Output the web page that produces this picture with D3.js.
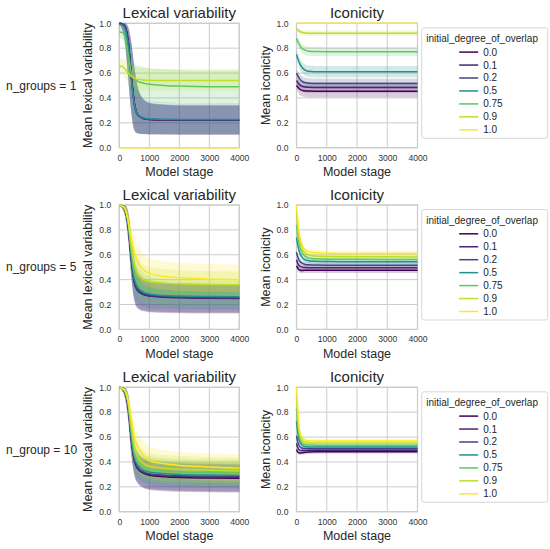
<!DOCTYPE html>
<html><head><meta charset="utf-8">
<script src="https://cdn.jsdelivr.net/npm/d3@7"></script>
<style>
body{margin:0;background:#fff;}
text{font-family:"Liberation Sans",Arial,Helvetica,sans-serif;fill:#262626;}
</style>
</head><body>
<svg id="c" width="550" height="549"></svg>
<script>
// ---------- categories & ticks ----------
const overlaps = ["0.0","0.1","0.2","0.5","0.75","0.9","1.0"];
const overlapValues = [0, 0.1, 0.2, 0.5, 0.75, 0.9, 1.0];
const rowLabels = ["n_groups = 1","n_groups = 5","n_group = 10"];
const legendTitle = "initial_degree_of_overlap";
const xTicks = [0, 1000, 2000, 3000, 4000];
const yTicks = [0, 0.2, 0.4, 0.6, 0.8, 1.0];
const lexStages = [0, 100, 200, 300, 400, 500, 600, 800, 1000, 1500, 2000, 3000, 4000];
const iconStages = [0, 50, 100, 200, 300, 400, 600, 1000, 2000, 4000];

// ---------- Lexical variability, n_groups = 1 ----------
const lex1Mean = [
 [1.00,0.995,0.97,0.85,0.58,0.36,0.27,0.235,0.226,0.222,0.221,0.221,0.221],
 [1.00,0.995,0.97,0.85,0.58,0.36,0.27,0.236,0.228,0.224,0.223,0.223,0.223],
 [1.00,0.995,0.965,0.84,0.57,0.355,0.268,0.236,0.228,0.225,0.224,0.224,0.224],
 [0.99,0.985,0.95,0.81,0.55,0.35,0.27,0.24,0.232,0.228,0.227,0.227,0.227],
 [0.93,0.925,0.88,0.74,0.60,0.555,0.535,0.52,0.51,0.50,0.495,0.49,0.49],
 [0.65,0.655,0.63,0.60,0.575,0.56,0.55,0.545,0.542,0.54,0.54,0.54,0.54],
 [0,0,0,0,0,0,0,0,0,0,0,0,0]
];
const lex1Lo = [
 [0.99,0.95,0.83,0.55,0.28,0.14,0.115,0.108,0.107,0.106,0.105,0.105,0.105],
 [0.99,0.95,0.83,0.56,0.29,0.145,0.118,0.11,0.109,0.108,0.107,0.107,0.107],
 [0.99,0.95,0.82,0.55,0.28,0.14,0.116,0.11,0.108,0.107,0.106,0.106,0.106],
 [0.97,0.93,0.80,0.52,0.27,0.14,0.118,0.112,0.11,0.109,0.108,0.108,0.108],
 [0.88,0.87,0.80,0.62,0.47,0.42,0.40,0.38,0.37,0.36,0.36,0.355,0.355],
 [0.58,0.59,0.56,0.52,0.49,0.47,0.465,0.46,0.46,0.46,0.46,0.46,0.46],
 [0,0,0,0,0,0,0,0,0,0,0,0,0]
];
const lex1Hi = [
 [1.0,1.0,1.0,0.97,0.85,0.65,0.50,0.39,0.36,0.345,0.34,0.34,0.34],
 [1.0,1.0,1.0,0.97,0.85,0.65,0.50,0.39,0.36,0.345,0.34,0.34,0.34],
 [1.0,1.0,1.0,0.96,0.84,0.64,0.50,0.39,0.36,0.35,0.345,0.345,0.345],
 [1.0,1.0,0.99,0.95,0.83,0.64,0.51,0.40,0.375,0.365,0.36,0.36,0.36],
 [0.97,0.97,0.94,0.86,0.74,0.68,0.66,0.65,0.64,0.63,0.625,0.62,0.62],
 [0.71,0.72,0.70,0.68,0.66,0.65,0.645,0.64,0.635,0.632,0.63,0.63,0.63],
 [0,0,0,0,0,0,0,0,0,0,0,0,0]
];

// ---------- Lexical variability, n_groups = 5 ----------
const lex5Mean = [
 [1.0,0.99,0.955,0.83,0.57,0.38,0.32,0.285,0.272,0.262,0.258,0.254,0.252],
 [1.0,0.99,0.955,0.82,0.56,0.375,0.315,0.28,0.268,0.258,0.254,0.25,0.248],
 [1.0,0.99,0.955,0.83,0.57,0.385,0.325,0.29,0.276,0.266,0.261,0.257,0.255],
 [1.0,0.99,0.96,0.84,0.59,0.41,0.345,0.30,0.285,0.272,0.268,0.264,0.262],
 [1.0,0.99,0.96,0.85,0.62,0.45,0.38,0.335,0.318,0.302,0.296,0.291,0.288],
 [1.0,0.99,0.965,0.86,0.67,0.52,0.45,0.40,0.385,0.372,0.366,0.36,0.358],
 [1.0,0.99,0.965,0.87,0.73,0.62,0.55,0.48,0.45,0.425,0.415,0.405,0.40]
];
const lex5Lo = [
 [0.99,0.97,0.90,0.71,0.42,0.23,0.17,0.145,0.138,0.132,0.13,0.128,0.127],
 [0.99,0.97,0.90,0.71,0.42,0.23,0.175,0.15,0.142,0.137,0.134,0.132,0.131],
 [0.99,0.97,0.90,0.71,0.42,0.24,0.18,0.155,0.148,0.142,0.14,0.138,0.137],
 [0.99,0.97,0.90,0.73,0.45,0.27,0.21,0.18,0.17,0.165,0.162,0.16,0.16],
 [0.99,0.97,0.91,0.75,0.49,0.32,0.26,0.22,0.21,0.20,0.195,0.19,0.19],
 [0.99,0.975,0.92,0.77,0.55,0.40,0.34,0.30,0.285,0.27,0.265,0.26,0.255],
 [0.99,0.975,0.93,0.80,0.63,0.50,0.43,0.37,0.345,0.32,0.31,0.305,0.30]
];
const lex5Hi = [
 [1.0,1.0,0.995,0.94,0.74,0.55,0.47,0.41,0.39,0.375,0.37,0.365,0.362],
 [1.0,1.0,0.995,0.93,0.73,0.54,0.46,0.40,0.385,0.37,0.365,0.36,0.357],
 [1.0,1.0,0.995,0.94,0.74,0.55,0.47,0.41,0.39,0.375,0.37,0.365,0.362],
 [1.0,1.0,0.995,0.94,0.75,0.57,0.48,0.42,0.40,0.38,0.37,0.365,0.36],
 [1.0,1.0,0.995,0.94,0.77,0.60,0.52,0.46,0.43,0.41,0.40,0.395,0.39],
 [1.0,1.0,0.995,0.94,0.80,0.66,0.58,0.52,0.50,0.485,0.475,0.47,0.465],
 [1.0,1.0,0.995,0.95,0.84,0.75,0.68,0.61,0.57,0.545,0.535,0.525,0.52]
];

// ---------- Lexical variability, n_group = 10 ----------
const lex10Mean = [
 [1.0,0.99,0.955,0.83,0.58,0.41,0.35,0.31,0.293,0.281,0.275,0.271,0.268],
 [1.0,0.99,0.955,0.84,0.59,0.42,0.355,0.315,0.30,0.288,0.283,0.279,0.276],
 [1.0,0.99,0.955,0.84,0.59,0.42,0.36,0.32,0.305,0.293,0.288,0.284,0.282],
 [1.0,0.99,0.96,0.85,0.61,0.44,0.38,0.335,0.32,0.307,0.30,0.295,0.292],
 [1.0,0.99,0.96,0.86,0.64,0.47,0.40,0.355,0.34,0.327,0.32,0.315,0.312],
 [1.0,0.99,0.965,0.87,0.68,0.52,0.45,0.39,0.365,0.35,0.342,0.335,0.33],
 [1.0,0.99,0.97,0.89,0.75,0.60,0.53,0.46,0.41,0.385,0.372,0.36,0.35]
];
const lex10Lo = [
 [0.99,0.97,0.90,0.72,0.45,0.29,0.23,0.19,0.175,0.165,0.16,0.157,0.155],
 [0.99,0.97,0.90,0.73,0.46,0.30,0.235,0.195,0.18,0.17,0.165,0.161,0.158],
 [0.99,0.97,0.90,0.73,0.46,0.30,0.24,0.20,0.185,0.175,0.17,0.166,0.164],
 [0.99,0.97,0.91,0.75,0.49,0.33,0.27,0.23,0.215,0.202,0.196,0.19,0.187],
 [0.99,0.97,0.91,0.77,0.52,0.36,0.29,0.25,0.235,0.222,0.215,0.21,0.207],
 [0.99,0.975,0.92,0.79,0.57,0.41,0.34,0.28,0.26,0.245,0.238,0.23,0.225],
 [0.99,0.975,0.93,0.82,0.64,0.48,0.41,0.34,0.30,0.275,0.262,0.25,0.24]
];
const lex10Hi = [
 [1.0,1.0,0.995,0.93,0.71,0.53,0.47,0.42,0.405,0.39,0.385,0.38,0.378],
 [1.0,1.0,0.995,0.94,0.72,0.54,0.475,0.425,0.41,0.395,0.39,0.385,0.382],
 [1.0,1.0,0.995,0.94,0.72,0.54,0.48,0.43,0.415,0.40,0.395,0.39,0.388],
 [1.0,1.0,0.995,0.94,0.73,0.56,0.49,0.44,0.425,0.41,0.405,0.40,0.397],
 [1.0,1.0,0.995,0.94,0.76,0.59,0.51,0.46,0.445,0.43,0.425,0.42,0.417],
 [1.0,1.0,0.995,0.94,0.79,0.64,0.56,0.50,0.47,0.455,0.447,0.44,0.435],
 [1.0,1.0,0.995,0.95,0.85,0.72,0.64,0.57,0.52,0.495,0.48,0.47,0.46]
];

// ---------- Iconicity, n_groups = 1 ----------
const icon1Mean = [
 [0.50,0.485,0.472,0.46,0.456,0.455,0.454,0.454,0.454,0.454],
 [0.54,0.522,0.507,0.492,0.487,0.485,0.484,0.484,0.484,0.484],
 [0.60,0.575,0.555,0.532,0.522,0.518,0.516,0.516,0.516,0.516],
 [0.75,0.71,0.68,0.64,0.622,0.614,0.611,0.61,0.61,0.61],
 [0.88,0.85,0.825,0.795,0.782,0.776,0.773,0.772,0.772,0.772],
 [0.955,0.945,0.936,0.926,0.922,0.92,0.92,0.92,0.92,0.92],
 [1,1,1,1,1,1,1,1,1,1]
];
const icon1Lo = [
 [0.47,0.445,0.425,0.412,0.408,0.406,0.405,0.405,0.405,0.405],
 [0.51,0.485,0.465,0.45,0.444,0.442,0.441,0.441,0.441,0.441],
 [0.57,0.54,0.515,0.492,0.483,0.48,0.478,0.478,0.478,0.478],
 [0.72,0.67,0.635,0.595,0.576,0.568,0.565,0.564,0.564,0.564],
 [0.86,0.82,0.79,0.76,0.745,0.74,0.737,0.736,0.736,0.736],
 [0.945,0.93,0.918,0.905,0.90,0.898,0.897,0.897,0.897,0.897],
 [1,1,1,1,1,1,1,1,1,1]
];
const icon1Hi = [
 [0.53,0.525,0.515,0.505,0.502,0.501,0.50,0.50,0.50,0.50],
 [0.57,0.56,0.548,0.535,0.53,0.528,0.527,0.527,0.527,0.527],
 [0.63,0.61,0.595,0.572,0.562,0.558,0.556,0.555,0.555,0.555],
 [0.78,0.75,0.725,0.685,0.668,0.66,0.657,0.656,0.656,0.656],
 [0.90,0.88,0.86,0.83,0.818,0.812,0.809,0.808,0.808,0.808],
 [0.965,0.96,0.954,0.947,0.944,0.942,0.942,0.942,0.942,0.942],
 [1,1,1,1,1,1,1,1,1,1]
];

// ---------- Iconicity, n_groups = 5 ----------
const icon5Mean = [
 [0.51,0.49,0.478,0.474,0.475,0.476,0.476,0.476,0.476,0.476],
 [0.56,0.525,0.51,0.50,0.497,0.496,0.495,0.495,0.495,0.495],
 [0.62,0.575,0.55,0.53,0.522,0.519,0.517,0.516,0.516,0.516],
 [0.74,0.67,0.62,0.575,0.558,0.552,0.547,0.545,0.544,0.543],
 [0.84,0.74,0.67,0.61,0.585,0.575,0.567,0.564,0.563,0.562],
 [0.93,0.80,0.72,0.64,0.61,0.60,0.59,0.586,0.584,0.583],
 [1.0,0.86,0.76,0.67,0.635,0.625,0.617,0.613,0.61,0.61]
];
const icon5Lo = [
 [0.49,0.465,0.455,0.452,0.453,0.454,0.454,0.454,0.454,0.454],
 [0.54,0.50,0.488,0.478,0.476,0.475,0.474,0.474,0.474,0.474],
 [0.60,0.55,0.527,0.508,0.50,0.497,0.496,0.495,0.495,0.495],
 [0.72,0.645,0.597,0.553,0.537,0.531,0.526,0.524,0.523,0.522],
 [0.82,0.715,0.647,0.588,0.564,0.554,0.546,0.543,0.542,0.541],
 [0.91,0.775,0.697,0.618,0.589,0.579,0.569,0.565,0.563,0.562],
 [1.0,0.835,0.735,0.647,0.613,0.603,0.595,0.591,0.589,0.589]
];
const icon5Hi = [
 [0.53,0.515,0.50,0.496,0.497,0.498,0.498,0.498,0.498,0.498],
 [0.58,0.55,0.532,0.522,0.518,0.517,0.516,0.516,0.516,0.516],
 [0.64,0.60,0.573,0.552,0.544,0.541,0.538,0.537,0.537,0.537],
 [0.76,0.695,0.643,0.597,0.579,0.573,0.568,0.566,0.565,0.564],
 [0.86,0.765,0.693,0.632,0.606,0.596,0.588,0.585,0.584,0.583],
 [0.95,0.825,0.743,0.662,0.631,0.621,0.611,0.607,0.605,0.604],
 [1.0,0.885,0.785,0.693,0.657,0.647,0.639,0.635,0.632,0.632]
];

// ---------- Iconicity, n_group = 10 ----------
const icon10Mean = [
 [0.50,0.478,0.472,0.474,0.477,0.479,0.481,0.482,0.482,0.482],
 [0.55,0.51,0.495,0.492,0.492,0.493,0.493,0.493,0.493,0.493],
 [0.61,0.555,0.525,0.51,0.508,0.507,0.507,0.507,0.507,0.507],
 [0.73,0.62,0.565,0.532,0.524,0.521,0.52,0.52,0.52,0.52],
 [0.83,0.68,0.60,0.55,0.54,0.536,0.535,0.534,0.534,0.534],
 [0.92,0.74,0.63,0.57,0.557,0.554,0.552,0.552,0.552,0.552],
 [1.0,0.80,0.66,0.59,0.575,0.571,0.569,0.568,0.568,0.568]
];
const icon10Lo = [
 [0.48,0.462,0.457,0.459,0.462,0.464,0.466,0.467,0.467,0.467],
 [0.53,0.494,0.48,0.477,0.477,0.478,0.478,0.478,0.478,0.478],
 [0.59,0.538,0.51,0.495,0.493,0.492,0.492,0.492,0.492,0.492],
 [0.71,0.60,0.548,0.516,0.508,0.505,0.504,0.504,0.504,0.504],
 [0.81,0.66,0.582,0.533,0.523,0.519,0.518,0.517,0.517,0.517],
 [0.90,0.72,0.612,0.553,0.54,0.537,0.535,0.535,0.535,0.535],
 [1.0,0.78,0.642,0.572,0.557,0.553,0.551,0.55,0.55,0.55]
];
const icon10Hi = [
 [0.52,0.494,0.487,0.489,0.492,0.494,0.496,0.497,0.497,0.497],
 [0.57,0.526,0.51,0.507,0.507,0.508,0.508,0.508,0.508,0.508],
 [0.63,0.572,0.54,0.525,0.523,0.522,0.522,0.522,0.522,0.522],
 [0.75,0.64,0.582,0.548,0.54,0.537,0.536,0.536,0.536,0.536],
 [0.85,0.70,0.618,0.567,0.557,0.553,0.552,0.551,0.551,0.551],
 [0.94,0.76,0.648,0.587,0.574,0.571,0.569,0.569,0.569,0.569],
 [1.0,0.82,0.678,0.608,0.593,0.589,0.587,0.586,0.586,0.586]
];

// ---------- layout ----------
const svg = d3.select("#c");
const color = d3.scaleSequential(d3.interpolateViridis).domain([0, 1]);
const rowTops = [23.3, 205, 387.3];
const plotH = 124.4;
const cols = [
  {x0: 119.3, x1: 239.3, title: "Lexical variability", ylabel: "Mean lexical variability", stages: lexStages,
   data: [[lex1Mean, lex1Lo, lex1Hi], [lex5Mean, lex5Lo, lex5Hi], [lex10Mean, lex10Lo, lex10Hi]]},
  {x0: 296.5, x1: 417.5, title: "Iconicity", ylabel: "Mean iconicity", stages: iconStages,
   data: [[icon1Mean, icon1Lo, icon1Hi], [icon5Mean, icon5Lo, icon5Hi], [icon10Mean, icon10Lo, icon10Hi]]}
];
const gridCol = "#cccccc";

rowTops.forEach((top, r) => {
  const bottom = top + plotH;
  // row label
  svg.append("text").attr("x", 6).attr("y", top + plotH / 2)
    .attr("dominant-baseline", "central").style("font-size", "12px").text(rowLabels[r]);

  cols.forEach((c, ci) => {
    const x = d3.scaleLinear().domain([0, 4000]).range([c.x0, c.x1]);
    const y = d3.scaleLinear().domain([0, 1]).range([bottom, top]);
    const g = svg.append("g");
    // grid
    g.selectAll(".gx").data(xTicks).join("line")
      .attr("x1", d => x(d)).attr("x2", d => x(d)).attr("y1", top).attr("y2", bottom)
      .attr("stroke", gridCol).attr("stroke-width", 1);
    g.selectAll(".gy").data(yTicks).join("line")
      .attr("y1", d => y(d)).attr("y2", d => y(d)).attr("x1", c.x0).attr("x2", c.x1)
      .attr("stroke", gridCol).attr("stroke-width", 1);
    // spines
    g.append("rect").attr("x", c.x0).attr("y", top).attr("width", c.x1 - c.x0).attr("height", plotH)
      .attr("fill", "none").attr("stroke", gridCol).attr("stroke-width", 1.25);

    // axes via d3
    const xAxis = d3.axisBottom(x).tickValues(xTicks).tickFormat(d3.format("d")).tickSize(0).tickPadding(7);
    const gx = g.append("g").attr("transform", `translate(0,${bottom})`).call(xAxis);
    gx.select(".domain").remove();
    gx.selectAll("text").style("font-size", "8.6px").style("fill", "#333")
      .style("font-family", '"Liberation Sans",Arial,sans-serif');
    const yAxis = d3.axisLeft(y).tickValues(yTicks).tickFormat(d3.format(".1f")).tickSize(0).tickPadding(8);
    const gy = g.append("g").attr("transform", `translate(${c.x0},0)`).call(yAxis);
    gy.select(".domain").remove();
    gy.selectAll("text").style("font-size", "8.6px").style("fill", "#333")
      .style("font-family", '"Liberation Sans",Arial,sans-serif');

    // titles and labels
    g.append("text").attr("x", (c.x0 + c.x1) / 2).attr("y", top - 11)
      .attr("text-anchor", "middle").attr("dominant-baseline", "central")
      .style("font-size", "15px").text(c.title);
    g.append("text").attr("x", (c.x0 + c.x1) / 2).attr("y", bottom + 24.5)
      .attr("text-anchor", "middle").attr("dominant-baseline", "central")
      .style("font-size", "12.5px").text("Model stage");
    g.append("text").attr("transform", `translate(${c.x0 - 31},${top + plotH / 2}) rotate(-90)`)
      .attr("text-anchor", "middle").attr("dominant-baseline", "central")
      .style("font-size", "12.5px").text(c.ylabel);

    // data
    const [mean, lo, hi] = c.data[r];
    const area = d3.area().x((d, i) => x(c.stages[i])).y0(d => y(d[0])).y1(d => y(d[1]))
      .curve(d3.curveMonotoneX);
    const line = d3.line().x((d, i) => x(c.stages[i])).y(d => y(d)).curve(d3.curveMonotoneX);
    overlapValues.forEach((v, k) => {
      const band = lo[k].map((l, i) => [l, hi[k][i]]);
      g.append("path").attr("d", area(band)).attr("fill", color(v)).attr("fill-opacity", 0.2)
        .attr("stroke", "none");
    });
    overlapValues.forEach((v, k) => {
      g.append("path").attr("d", line(mean[k])).attr("fill", "none")
        .attr("stroke", color(v)).attr("stroke-width", 1.5);
    });

    // legend
    if (ci === 1) {
      const lx = 421.7, ly = top + 4.5;
      const lg = svg.append("g").attr("transform", `translate(${lx},${ly})`);
      lg.append("rect").attr("x", 0).attr("y", 0).attr("width", 126).attr("height", 110.5)
        .attr("rx", 2.5).attr("fill", "#fff").attr("stroke", gridCol).attr("stroke-width", 0.8);
      lg.append("text").attr("x", 4.5).attr("y", 11).attr("dominant-baseline", "central")
        .style("font-size", "10px").text(legendTitle);
      overlaps.forEach((lab, k) => {
        const yy = 24.3 + k * 12.95;
        lg.append("line").attr("x1", 37.5).attr("x2", 56.5).attr("y1", yy).attr("y2", yy)
          .attr("stroke", color(overlapValues[k])).attr("stroke-width", 1.5);
        lg.append("text").attr("x", 61.5).attr("y", yy).attr("dominant-baseline", "central")
          .style("font-size", "10px").text(lab);
      });
    }
  });
});
</script>
</body></html>
